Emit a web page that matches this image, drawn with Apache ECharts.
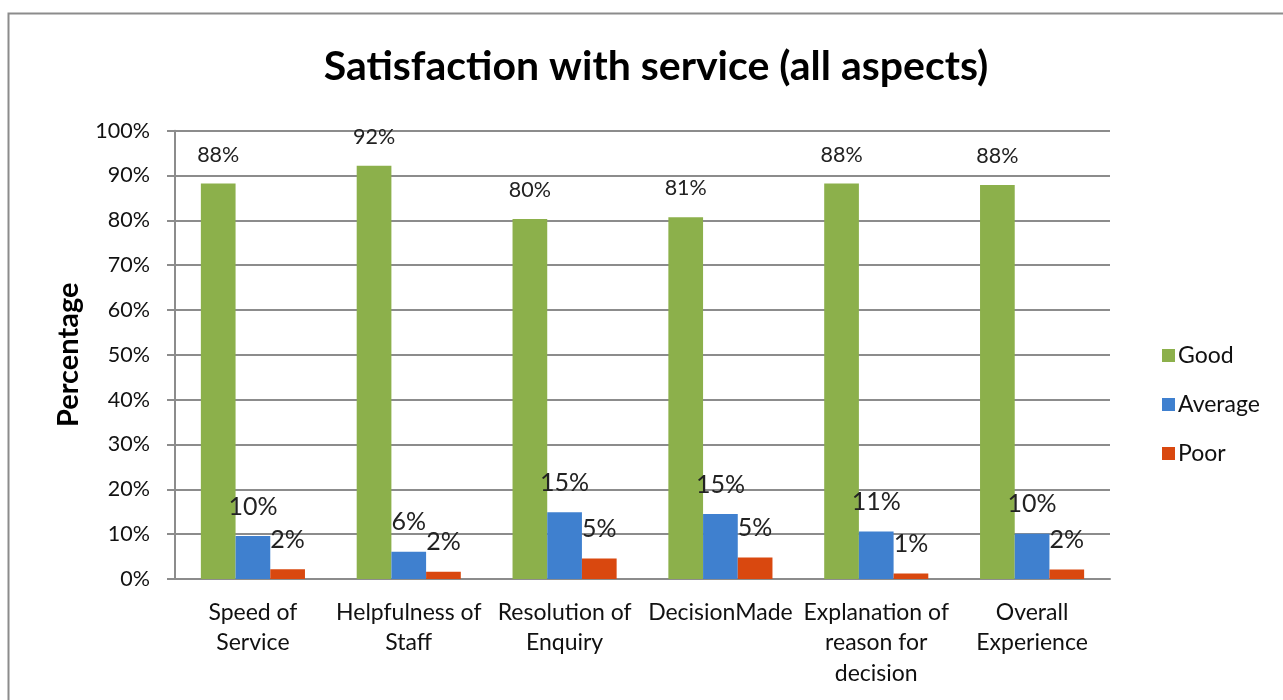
<!DOCTYPE html>
<html>
<head>
<meta charset="utf-8">
<script src="https://cdn.jsdelivr.net/npm/echarts@6/dist/echarts.min.js"></script>
<style>
html,body{margin:0;padding:0;background:#fff;}
#chart{width:1283px;height:700px;}
</style>
</head>
<body>
<div id="chart"></div>
<script>
const titleText = 'Satisfaction with service (all aspects)';
const categories = ['Speed of\nService', 'Helpfulness of\nStaff', 'Resolution of\nEnquiry', 'DecisionMade', 'Explanation of\nreason for\ndecision', 'Overall\nExperience'];
const seriesNames = ['Good', 'Average', 'Poor'];
const good = [88.2, 92.2, 80.3, 80.7, 88.2, 87.9];
const average = [9.6, 6.1, 14.9, 14.5, 10.6, 10.1];
const poor = [2.2, 1.6, 4.6, 4.8, 1.2, 2.1];
const yTicks = [0, 10, 20, 30, 40, 50, 60, 70, 80, 90, 100];
const colors = ['#8CB04B', '#3F80CF', '#D9480F'];

const FONT = 'Lato';
const chart = echarts.init(document.getElementById('chart'), null, {renderer: 'canvas'});

function barSeries(name, data, color, fontSize, distance) {
  return {
    name: name,
    type: 'bar',
    data: data,
    barWidth: 34.7,
    barGap: '0%',
    itemStyle: {color: color},
    label: {
      show: true,
      position: 'top',
      distance: distance,
      fontFamily: FONT,
      fontSize: fontSize,
      color: '#222',
      formatter: p => Math.round(p.value) + '%'
    }
  };
}

chart.setOption({
  animation: false,
  backgroundColor: '#fff',
  textStyle: {fontFamily: FONT},
  title: {
    text: titleText,
    left: 651,
    top: 41,
    textAlign: 'center',
    textStyle: {fontFamily: FONT, fontWeight: 'bold', fontSize: 41, color: '#000'}
  },
  graphic: [{
    type: 'rect',
    shape: {x: 8.5, y: 13.5, width: 1300, height: 720},
    style: {fill: 'none', stroke: '#8c8c8c', lineWidth: 2},
    silent: true
  }],
  legend: {
    orient: 'vertical',
    left: 1157,
    top: 339,
    itemWidth: 13,
    itemHeight: 13,
    itemGap: 26,
    icon: 'rect',
    data: seriesNames,
    textStyle: {fontFamily: FONT, fontSize: 23, color: '#111', padding: [0, 0, 0, -2]}
  },
  grid: {left: 175, right: 173, top: 130.7, bottom: 121, containLabel: false},
  xAxis: {
    type: 'category',
    data: categories,
    axisLine: {lineStyle: {color: '#8c8c8c', width: 2}},
    axisTick: {show: false},
    axisLabel: {
      interval: 0,
      margin: 18,
      fontFamily: FONT,
      fontSize: 23,
      lineHeight: 30.5,
      color: '#111',
      align: 'center'
    }
  },
  yAxis: {
    type: 'value',
    min: 0,
    max: 100,
    interval: 10,
    name: 'Percentage',
    nameLocation: 'middle',
    nameGap: 92,
    nameRotate: 90,
    nameTextStyle: {fontFamily: FONT, fontWeight: 'bold', fontSize: 29, color: '#000'},
    axisLine: {show: true, lineStyle: {color: '#8c8c8c', width: 2}},
    axisTick: {show: true, length: 8, lineStyle: {color: '#8c8c8c', width: 2}},
    splitLine: {lineStyle: {color: '#8c8c8c', width: 2}},
    axisLabel: {
      margin: 25,
      fontFamily: FONT,
      fontSize: 21.5,
      color: '#111',
      formatter: v => (yTicks.indexOf(v) >= 0 ? v + '%' : '')
    }
  },
  series: [
    barSeries(seriesNames[0], good, colors[0], 21.5, 18),
    barSeries(seriesNames[1], average, colors[1], 25, 17),
    barSeries(seriesNames[2], poor, colors[2], 25, 17)
  ]
});
</script>
</body>
</html>
